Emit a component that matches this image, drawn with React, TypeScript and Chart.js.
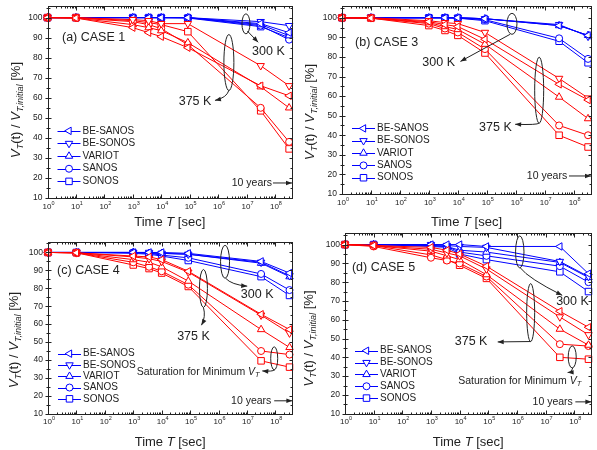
import React, { useEffect, useRef } from "react";
import { Chart, registerables } from "chart.js";

Chart.register(...registerables);

const FONT = "'Liberation Sans', Arial, Helvetica, sans-serif";
const BLUE = "#0000ff";
const RED = "#ff0000";
const INK = "#222222";

// time points (s): 1 s, 10 s, 1000 s, 1 hour, 1e4 s, 1 day, 1 year, 10 years
const timesSec = [1, 10, 1000, 3600, 10000, 86400, 3.15e7, 3.15e8];
const seriesNames = ["BE-SANOS", "BE-SONOS", "VARIOT", "SANOS", "SONOS"];
const yTickValues = [10, 20, 30, 40, 50, 60, 70, 80, 90, 100];
const xTickExponents = [0, 1, 2, 3, 4, 5, 6, 7, 8];
const xMaxExponent = 8.6;
const yMin = 10;
const yMax = 106;
const legendValues = [43.5, 37.2, 30.9, 24.6, 18.3];

// CASE 1 (300 K blue, 375 K red), order: BE-SANOS, BE-SONOS, VARIOT, SANOS, SONOS
const case1Blue = [
  [100, 100, 100, 100, 100, 100, 97, 92.5],
  [100, 100, 100, 100, 100, 100, 98, 96],
  [100, 100, 100, 100, 100, 100, 96.5, 91],
  [100, 100, 100, 100, 100, 100, 96, 89],
  [100, 100, 100, 100, 100, 99.8, 95.5, 90],
];
const case1Red = [
  [100, 99.8, 95, 92.5, 90.5, 85, 66, 61],
  [100, 100, 99, 98.5, 97, 97, 76, 66],
  [100, 99.8, 96.5, 95, 93.5, 87.5, 65.5, 55],
  [100, 99.8, 98, 96.5, 94.5, 86.5, 55, 38],
  [100, 100, 98.5, 97.5, 96.5, 93, 53.5, 34.5],
];

// CASE 3
const case3Blue = [
  [100, 100, 100, 100, 100, 99.5, 96, 91],
  [100, 100, 100, 100, 100, 99.5, 96.5, 90.5],
  [100, 100, 100, 100, 100, 99.5, 96, 91],
  [100, 100, 100, 100, 99.8, 99, 89.5, 79],
  [100, 100, 100, 100, 99.8, 98.5, 88, 77],
];
const case3Red = [
  [100, 99.8, 98, 96.5, 95.5, 89, 66, 58],
  [100, 100, 98.5, 97.5, 97, 92.5, 69, 59],
  [100, 99.8, 97.5, 95.5, 94, 86.5, 59.5, 48.5],
  [100, 99.8, 97, 94.5, 92.5, 84, 45, 40],
  [100, 99.8, 96, 93.5, 91, 82, 40, 34],
];

// CASE 4
const case4Blue = [
  [100, 100, 100, 100, 100, 99.5, 95, 88.5],
  [100, 100, 100, 100, 99.5, 99, 94.5, 87],
  [100, 100, 100, 99.5, 99.5, 99, 94, 86.5],
  [100, 100, 100, 99.5, 98.5, 97, 88, 79],
  [100, 100, 99.5, 99, 98, 95.5, 86.5, 76],
];
const case4Red = [
  [100, 99.8, 98, 97.5, 96, 89.5, 65.5, 57],
  [100, 99.8, 97.5, 96.5, 95, 89, 65, 55],
  [100, 99.8, 96, 94.5, 92, 84, 57, 47],
  [100, 99.8, 94.5, 92, 89.5, 82, 45, 43],
  [100, 99.8, 93, 91, 88.5, 81, 39.5, 36],
];

// CASE 5
const case5Blue = [
  [100, 100, 100, 100, 100, 99, 99, 84.5],
  [100, 100, 100, 99.5, 99, 98.5, 91, 83],
  [100, 100, 99.5, 99, 97, 96, 90.5, 82.5],
  [100, 100, 99.5, 99, 96, 94, 88.5, 80],
  [100, 100, 99, 98.5, 95, 92, 85.5, 75],
];
const case5Red = [
  [100, 99.5, 98.5, 97, 95, 88.5, 64.5, 56],
  [100, 99.5, 97.5, 95.5, 94, 87, 61.5, 52],
  [100, 99.5, 96.5, 94, 92, 84, 55, 46.5],
  [100, 99, 93, 91.5, 90, 83, 47, 46],
  [100, 99.5, 94.5, 92, 89, 82, 40, 39],
];

const markerStyles = ["triangle", "triangle", "triangle", "circle", "rect"];
const markerRotations = [-90, 180, 0, 0, 0];
const markerRadii = [4.3, 4.3, 4.3, 3.5, 4.6];

type Seg = { t: string; size: number; italic?: boolean; dy?: number };
type Pt = [number, number];
type Ann =
  | { kind: "text"; at: Pt; segs: Seg[]; align: "left" | "center" | "right" }
  | { kind: "ellipse"; at: Pt; rx: number; ry: number }
  | { kind: "arrow"; from: Pt; to: Pt; via?: Pt };

const kText = (label: string): Seg[] => [{ t: label, size: 12.5 }];
const satSegs: Seg[] = [
  { t: "Saturation for Minimum ", size: 10.5 },
  { t: "V", size: 10.5, italic: true },
  { t: "T", size: 7.5, italic: true, dy: 3 },
];
const yearsSegs: Seg[] = [{ t: "10 years", size: 10.5 }];

const panels = [
  {
    key: "a", left: 0, top: 0, width: 298, height: 235,
    area: { left: 47.5, top: 5, right: 292, bottom: 198 },
    xLabelY: 207, xTitleY: 222, yTitleX: 16, yTitleY: 110,
    blue: case1Blue, red: case1Red,
    anns: [
      { kind: "text", at: [0.51, 90], segs: [{ t: "(a) CASE 1", size: 12.5 }], align: "left" },
      { kind: "ellipse", at: [6.98, 96.9], rx: 4, ry: 10 },
      { kind: "arrow", from: [7.03, 93.3], to: [7.41, 87.7] },
      { kind: "text", at: [7.77, 83.2], segs: kText("300 K"), align: "center" },
      { kind: "ellipse", at: [6.38, 77.6], rx: 5, ry: 28 },
      { kind: "arrow", from: [6.38, 63.7], via: [6.3, 60], to: [5.89, 58.7] },
      { kind: "text", at: [5.19, 58.2], segs: kText("375 K"), align: "center" },
      { kind: "text", at: [7.19, 17.5], segs: yearsSegs, align: "center" },
      { kind: "arrow", from: [7.93, 17.5], to: [xMaxExponent, 17.5] },
    ] as Ann[],
  },
  {
    key: "b", left: 297, top: 0, width: 300, height: 235,
    area: { left: 45, top: 6, right: 294, bottom: 194 },
    xLabelY: 203, xTitleY: 222, yTitleX: 13, yTitleY: 112,
    blue: case3Blue, red: case3Red,
    anns: [
      { kind: "text", at: [0.45, 87.4], segs: [{ t: "(b) CASE 3", size: 12.5 }], align: "left" },
      { kind: "ellipse", at: [5.87, 96.9], rx: 5, ry: 10.5 },
      { kind: "arrow", from: [5.8, 91.5], to: [4.09, 77.7] },
      { kind: "text", at: [3.34, 77.2], segs: kText("300 K"), align: "center" },
      { kind: "ellipse", at: [6.81, 63], rx: 4.5, ry: 33 },
      { kind: "arrow", from: [6.81, 46.2], via: [6.75, 45.2], to: [5.98, 45.6] },
      { kind: "text", at: [5.3, 44.1], segs: kText("375 K"), align: "center" },
      { kind: "text", at: [7.08, 19.2], segs: yearsSegs, align: "center" },
      { kind: "arrow", from: [7.84, 19.2], to: [xMaxExponent, 19.2] },
    ] as Ann[],
  },
  {
    key: "c", left: 0, top: 225, width: 298, height: 225,
    area: { left: 48, top: 16.7, right: 293.3, bottom: 188.7 },
    xLabelY: 197, xTitleY: 217, yTitleX: 14, yTitleY: 115,
    blue: case4Blue, red: case4Red,
    anns: [
      { kind: "text", at: [0.32, 89.7], segs: [{ t: "(c) CASE 4", size: 12.5 }], align: "left" },
      { kind: "ellipse", at: [6.23, 94.8], rx: 4.5, ry: 16.5 },
      { kind: "arrow", from: [6.25, 85.6], via: [6.45, 82], to: [7.01, 81.2] },
      { kind: "text", at: [7.36, 76.7], segs: kText("300 K"), align: "center" },
      { kind: "ellipse", at: [5.47, 79.9], rx: 4, ry: 19 },
      { kind: "arrow", from: [5.47, 69.3], via: [5.56, 64], to: [5.4, 59.4] },
      { kind: "text", at: [5.12, 53], segs: kText("375 K"), align: "center" },
      { kind: "ellipse", at: [7.96, 40.9], rx: 3.5, ry: 11.5 },
      { kind: "arrow", from: [7.98, 34.5], via: [7.9, 33.4], to: [7.54, 33.9] },
      { kind: "text", at: [3.12, 33.4], segs: satSegs, align: "left" },
      { kind: "text", at: [7.15, 17.2], segs: yearsSegs, align: "center" },
      { kind: "arrow", from: [7.96, 17.2], to: [xMaxExponent, 17.2] },
    ] as Ann[],
  },
  {
    key: "d", left: 297, top: 225, width: 300, height: 225,
    area: { left: 48, top: 8.3, right: 296, bottom: 188.7 },
    xLabelY: 197, xTitleY: 217, yTitleX: 12, yTitleY: 113.5,
    blue: case5Blue, red: case5Red,
    anns: [
      { kind: "text", at: [0.24, 87.6], segs: [{ t: "(d) CASE 5", size: 12.5 }], align: "left" },
      { kind: "ellipse", at: [6.1, 96.1], rx: 4.2, ry: 16 },
      { kind: "arrow", from: [6.12, 87.6], via: [6.4, 82], to: [7.58, 73] },
      { kind: "text", at: [7.94, 69.9], segs: kText("300 K"), align: "center" },
      { kind: "ellipse", at: [6.48, 63.8], rx: 4, ry: 29 },
      { kind: "arrow", from: [6.48, 48.4], to: [5.33, 48.2] },
      { kind: "text", at: [4.4, 48.2], segs: kText("375 K"), align: "center" },
      { kind: "ellipse", at: [7.93, 40.2], rx: 4, ry: 11 },
      { kind: "arrow", from: [7.95, 34.4], via: [7.9, 32], to: [7.77, 31.9] },
      { kind: "text", at: [3.95, 27.3], segs: satSegs, align: "left" },
      { kind: "text", at: [7.25, 16.3], segs: yearsSegs, align: "center" },
      { kind: "arrow", from: [8.04, 16.3], to: [xMaxExponent, 16.3] },
    ] as Ann[],
  },
];

type PanelCfg = (typeof panels)[number];

function setFont(ctx: CanvasRenderingContext2D, size: number, italic?: boolean) {
  ctx.font = `${italic ? "italic " : ""}${size}px ${FONT}`;
}

function segsWidth(ctx: CanvasRenderingContext2D, segs: Seg[]) {
  let w = 0;
  for (const s of segs) {
    setFont(ctx, s.size, s.italic);
    w += ctx.measureText(s.t).width;
  }
  return w;
}

function drawSegs(ctx: CanvasRenderingContext2D, segs: Seg[], x: number, y: number, align: string) {
  const w = segsWidth(ctx, segs);
  let cx = align === "center" ? x - w / 2 : align === "right" ? x - w : x;
  ctx.textAlign = "left";
  ctx.textBaseline = "middle";
  for (const s of segs) {
    setFont(ctx, s.size, s.italic);
    ctx.fillText(s.t, cx, y + (s.dy || 0));
    cx += ctx.measureText(s.t).width;
  }
}

function drawMarker(ctx: CanvasRenderingContext2D, i: number, x: number, y: number) {
  const style = markerStyles[i];
  const r = markerRadii[i];
  ctx.beginPath();
  if (style === "circle") {
    ctx.arc(x, y, r, 0, Math.PI * 2);
  } else if (style === "rect") {
    const s = r * Math.SQRT1_2;
    ctx.rect(x - s, y - s, 2 * s, 2 * s);
  } else {
    let a = (markerRotations[i] * Math.PI) / 180;
    ctx.moveTo(x + Math.sin(a) * r, y - Math.cos(a) * r);
    a += (2 * Math.PI) / 3;
    ctx.lineTo(x + Math.sin(a) * r, y - Math.cos(a) * r);
    a += (2 * Math.PI) / 3;
    ctx.lineTo(x + Math.sin(a) * r, y - Math.cos(a) * r);
    ctx.closePath();
  }
  ctx.fillStyle = "#ffffff";
  ctx.fill();
  ctx.stroke();
}

function drawArrow(ctx: CanvasRenderingContext2D, x1: number, y1: number, x2: number, y2: number, via?: [number, number]) {
  ctx.beginPath();
  ctx.moveTo(x1, y1);
  if (via) ctx.quadraticCurveTo(via[0], via[1], x2, y2);
  else ctx.lineTo(x2, y2);
  ctx.stroke();
  const tx = via ? via[0] : x1;
  const ty = via ? via[1] : y1;
  const a = Math.atan2(y2 - ty, x2 - tx);
  const len = 6;
  const hw = 2.3;
  ctx.beginPath();
  ctx.moveTo(x2, y2);
  ctx.lineTo(x2 - len * Math.cos(a) + hw * Math.sin(a), y2 - len * Math.sin(a) - hw * Math.cos(a));
  ctx.lineTo(x2 - len * Math.cos(a) - hw * Math.sin(a), y2 - len * Math.sin(a) + hw * Math.cos(a));
  ctx.closePath();
  ctx.fill();
}

function makeDecor(cfg: PanelCfg) {
  return {
    id: "panelDecor",
    afterDatasetsDraw(chart: any) {
      const ctx: CanvasRenderingContext2D = chart.ctx;
      const ca = chart.chartArea;
      const xs = chart.scales.x;
      const ys = chart.scales.y;
      const X = (e: number) => xs.getPixelForValue(Math.pow(10, e));
      const Y = (v: number) => ys.getPixelForValue(v);
      ctx.save();
      ctx.strokeStyle = INK;
      ctx.fillStyle = INK;
      ctx.lineWidth = 1;

      const L = Math.round(ca.left) + 0.5;
      const R = Math.round(ca.right) + 0.5;
      const T = Math.round(ca.top) + 0.5;
      const B = Math.round(ca.bottom) + 0.5;

      // ticks
      ctx.beginPath();
      const vTick = (px: number, len: number) => {
        const x = Math.round(px) + 0.5;
        ctx.moveTo(x, B);
        ctx.lineTo(x, B - len);
        ctx.moveTo(x, T);
        ctx.lineTo(x, T + len);
      };
      for (const e of xTickExponents) {
        vTick(X(e), 4);
        for (let m = 2; m <= 9; m++) {
          const ee = e + Math.log10(m);
          if (ee <= xMaxExponent) vTick(X(ee), 2);
        }
      }
      const hTick = (py: number, len: number) => {
        const y = Math.round(py) + 0.5;
        ctx.moveTo(L - len, y);
        ctx.lineTo(L + len, y);
        ctx.moveTo(R, y);
        ctx.lineTo(R - len, y);
      };
      for (const v of yTickValues) {
        hTick(Y(v), 3);
        if (v + 5 <= yMax) hTick(Y(v + 5), 2);
      }
      ctx.stroke();

      // frame
      ctx.strokeRect(L, T, R - L, B - T);

      // y tick labels
      setFont(ctx, 8.5);
      ctx.textAlign = "right";
      ctx.textBaseline = "middle";
      for (const v of yTickValues) ctx.fillText(String(v), ca.left - 5, Y(v));

      // x tick labels 10^n
      for (const e of xTickExponents) {
        drawSegs(ctx, [{ t: "10", size: 8 }, { t: String(e), size: 5.5, dy: -3.5 }], X(e) + 1, cfg.xLabelY, "center");
      }

      // axis titles
      drawSegs(ctx, [{ t: "Time ", size: 13 }, { t: "T", size: 13, italic: true }, { t: " [sec]", size: 13 }], (ca.left + ca.right) / 2, cfg.xTitleY, "center");
      ctx.save();
      ctx.translate(cfg.yTitleX, cfg.yTitleY);
      ctx.rotate(-Math.PI / 2);
      drawSegs(
        ctx,
        [
          { t: "V", size: 13, italic: true },
          { t: "T", size: 9, italic: true, dy: 4 },
          { t: "(t) / ", size: 13 },
          { t: "V", size: 13, italic: true },
          { t: "T,initial", size: 9, italic: true, dy: 4 },
          { t: " [%]", size: 13 },
        ],
        0,
        0,
        "center"
      );
      ctx.restore();

      // annotations
      for (const a of cfg.anns) {
        ctx.strokeStyle = INK;
        ctx.fillStyle = INK;
        if (a.kind === "text") {
          drawSegs(ctx, a.segs, X(a.at[0]), Y(a.at[1]), a.align);
        } else if (a.kind === "ellipse") {
          ctx.beginPath();
          ctx.ellipse(X(a.at[0]), Y(a.at[1]), a.rx, a.ry, 0, 0, Math.PI * 2);
          ctx.stroke();
        } else {
          drawArrow(ctx, X(a.from[0]), Y(a.from[1]), X(a.to[0]), Y(a.to[1]), a.via ? [X(a.via[0]), Y(a.via[1])] : undefined);
        }
      }

      // legend (blue symbols)
      seriesNames.forEach((name, i) => {
        const py = Y(legendValues[i]);
        ctx.strokeStyle = BLUE;
        ctx.lineWidth = 1;
        ctx.beginPath();
        ctx.moveTo(ca.left + 10, Math.round(py) + 0.5);
        ctx.lineTo(ca.left + 33, Math.round(py) + 0.5);
        ctx.stroke();
        drawMarker(ctx, i, ca.left + 21.5, py);
        ctx.fillStyle = INK;
        setFont(ctx, 10);
        ctx.textAlign = "left";
        ctx.textBaseline = "middle";
        ctx.fillText(name, ca.left + 35, py);
      });

      ctx.restore();
    },
  };
}

function Panel({ cfg }: { cfg: PanelCfg }) {
  const ref = useRef<HTMLCanvasElement>(null);
  useEffect(() => {
    const canvas = ref.current;
    if (!canvas) return;
    const datasets: any[] = [];
    const addGroup = (vals: number[][], color: string) =>
      vals.forEach((series, i) =>
        datasets.push({
          label: seriesNames[i],
          data: timesSec.map((t, j) => ({ x: t, y: series[j] })),
          borderColor: color,
          backgroundColor: "#ffffff",
          borderWidth: 1,
          pointStyle: markerStyles[i],
          pointRotation: markerRotations[i],
          pointRadius: markerRadii[i],
          pointBorderWidth: 1,
          pointBackgroundColor: "#ffffff",
          pointBorderColor: color,
          tension: 0,
          fill: false,
          clip: false,
        })
      );
    // first dataset is drawn on top in Chart.js: red (375 K) first
    addGroup(cfg.red, RED);
    addGroup(cfg.blue, BLUE);
    const chart = new Chart(canvas, {
      type: "line",
      data: { datasets },
      options: {
        responsive: false,
        animation: false,
        devicePixelRatio: 1,
        events: [],
        layout: {
          padding: {
            left: cfg.area.left,
            top: cfg.area.top,
            right: cfg.width - cfg.area.right,
            bottom: cfg.height - cfg.area.bottom,
          },
        },
        scales: {
          x: { type: "logarithmic", min: 1, max: Math.pow(10, xMaxExponent), display: false },
          y: { type: "linear", min: yMin, max: yMax, display: false },
        },
        plugins: { legend: { display: false }, tooltip: { enabled: false } },
      } as any,
      plugins: [makeDecor(cfg)],
    });
    return () => chart.destroy();
  }, [cfg]);
  return (
    <canvas
      ref={ref}
      width={cfg.width}
      height={cfg.height}
      style={{ position: "absolute", left: cfg.left, top: cfg.top, width: cfg.width, height: cfg.height }}
    />
  );
}

export default function App() {
  return (
    <div style={{ position: "absolute", left: 0, top: 0, width: 597, height: 450, background: "#ffffff", overflow: "hidden" }}>
      {panels.map((p) => (
        <Panel key={p.key} cfg={p} />
      ))}
    </div>
  );
}
